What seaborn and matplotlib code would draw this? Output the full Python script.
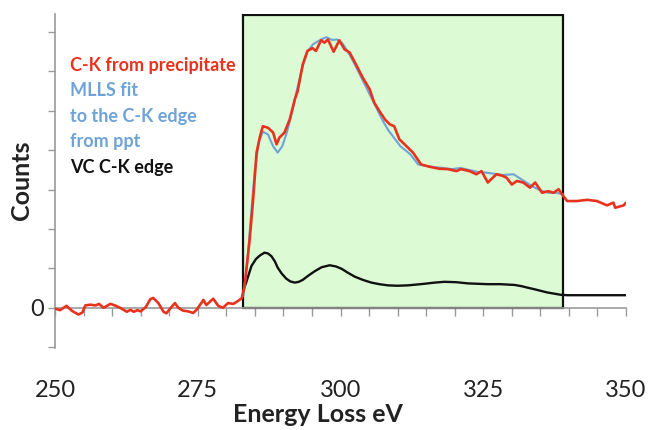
import matplotlib
matplotlib.use("Agg")
import matplotlib.pyplot as plt
from matplotlib.patches import Rectangle
from matplotlib.ticker import MultipleLocator
import seaborn as sns
import pandas as pd

# C-K edge measured from the precipitate (energy loss in eV, counts in arbitrary units)
ppt_energy = [250.0, 250.9, 252.0, 253.0, 254.1, 254.8, 255.3, 256.2, 257.1, 257.7,
              258.5, 259.7, 260.5, 261.4, 262.6, 263.2, 263.8, 264.4, 265.0, 265.9,
              266.7, 267.2, 268.1, 269.0, 269.5, 270.4, 271.0, 271.6, 272.4, 273.3,
              274.2, 274.8, 276.0, 276.5, 277.7, 278.6, 279.4, 280.3, 281.2, 281.8,
              282.7, 283.2, 284.1, 284.7, 285.3, 285.9, 286.4, 287.3, 288.2, 288.8,
              289.3, 290.2, 291.1, 292.0, 292.5, 293.4, 294.2, 295.1, 295.7, 296.6,
              297.2, 297.8, 298.8, 299.8, 300.7, 301.6, 302.7, 303.9, 305.1, 305.9,
              307.0, 307.8, 308.6, 309.4, 310.3, 311.5, 312.7, 313.5, 314.1, 315.6,
              317.3, 318.8, 320.3, 321.1, 322.6, 323.8, 324.7, 325.8, 327.3, 328.4,
              329.1, 330.0, 330.9, 332.0, 333.2, 334.1, 335.3, 336.4, 337.3, 338.2,
              338.8, 339.7, 341.4, 343.2, 344.9, 346.7, 347.8, 348.1, 349.6, 350.0]
ppt_counts = [-0.02, -0.06, 0.05, -0.08, -0.17, -0.12, 0.06, 0.08, 0.06, 0.10,
              0.00, 0.10, 0.06, 0.00, -0.10, -0.05, -0.10, -0.06, -0.09, 0.02,
              0.22, 0.25, 0.12, -0.10, -0.14, 0.02, 0.12, 0.00, -0.07, -0.09,
              -0.13, -0.05, 0.20, 0.07, 0.23, 0.05, 0.00, 0.12, 0.10, 0.15,
              0.24, 0.55, 1.74, 2.75, 3.94, 4.35, 4.61, 4.57, 4.45, 4.15,
              4.32, 4.45, 4.78, 5.29, 5.50, 6.18, 6.52, 6.59, 6.52, 6.79,
              6.73, 6.81, 6.50, 6.79, 6.56, 6.48, 6.18, 5.84, 5.55, 5.21,
              4.95, 4.78, 4.66, 4.61, 4.28, 4.11, 3.94, 3.77, 3.64, 3.58,
              3.53, 3.52, 3.47, 3.52, 3.47, 3.39, 3.47, 3.18, 3.39, 3.35,
              3.30, 3.13, 3.22, 3.18, 3.05, 3.18, 2.92, 2.96, 2.92, 3.01,
              2.88, 2.71, 2.71, 2.74, 2.71, 2.60, 2.67, 2.54, 2.60, 2.67]

# MLLS fit to the precipitate C-K edge
fit_energy = [283.0, 283.7, 284.3, 285.0, 285.7, 286.4, 287.3, 288.2, 289.0, 289.8,
              290.6, 291.5, 292.4, 293.3, 294.2, 295.2, 296.2, 297.5, 298.5, 299.4,
              300.4, 301.5, 302.6, 303.8, 305.0, 306.2, 307.4, 308.4, 309.3, 310.5,
              312.2, 313.6, 315.0, 316.5, 318.0, 319.5, 321.0, 322.5, 324.0, 325.5,
              327.0, 328.5, 330.3, 331.7, 333.4, 335.0, 336.4, 337.8, 339.0]
fit_counts = [0.30, 1.20, 2.30, 3.50, 4.20, 4.47, 4.40, 4.10, 3.94, 4.10,
              4.45, 4.95, 5.55, 6.10, 6.50, 6.69, 6.78, 6.87, 6.80, 6.81,
              6.70, 6.45, 6.15, 5.80, 5.45, 5.10, 4.75, 4.50, 4.33, 4.10,
              3.90, 3.64, 3.60, 3.57, 3.55, 3.52, 3.55, 3.50, 3.45, 3.43,
              3.40, 3.37, 3.39, 3.26, 3.10, 2.98, 2.92, 2.92, 2.88]

# Reference VC C-K edge
vc_energy = [283.0, 283.5, 284.4, 285.2, 285.9, 286.7, 287.3, 287.9, 288.5, 289.0,
             289.7, 290.5, 291.2, 292.0, 292.7, 293.4, 294.4, 295.5, 296.7, 298.1,
             299.2, 300.2, 301.3, 302.5, 303.9, 305.4, 306.8, 308.3, 310.0, 311.8,
             313.3, 314.7, 316.5, 318.2, 320.3, 322.3, 324.0, 325.8, 328.0, 330.5,
             331.7, 332.8, 334.0, 335.1, 336.2, 337.4, 338.6, 339.8, 345.0, 350.0]
vc_counts = [0.45, 0.65, 1.06, 1.24, 1.33, 1.40, 1.38, 1.31, 1.18, 1.02,
             0.87, 0.74, 0.67, 0.64, 0.66, 0.71, 0.82, 0.93, 1.03, 1.08,
             1.05, 0.99, 0.89, 0.79, 0.71, 0.64, 0.60, 0.57, 0.56, 0.57,
             0.59, 0.61, 0.64, 0.66, 0.65, 0.62, 0.61, 0.60, 0.60, 0.58,
             0.55, 0.51, 0.47, 0.43, 0.39, 0.36, 0.33, 0.32, 0.32, 0.32]

# Fitting window
fit_window = (283.0, 339.0)
x_tick_labels = [250, 275, 300, 325, 350]

legend_lines = [("C-K from precipitate", "#e8321e"),
                ("MLLS fit", "#6fa3d6"),
                ("to the C-K edge", "#6fa3d6"),
                ("from ppt", "#6fa3d6"),
                ("VC C-K edge", "#111111")]

RED = "#e8321e"
BLUE = "#6fa3d6"
GREY = "#9a9a9a"

sns.set_theme(style="white")
plt.rcParams["font.family"] = ["Lato", "DejaVu Sans"]

fig = plt.figure(figsize=(6.49, 4.30), dpi=100)
ax = fig.add_axes([55 / 649, 82 / 430, 571 / 649, 334.5 / 430])

ymin, ymax = -1.02, 7.47
ax.set_xlim(250, 350)
ax.set_ylim(ymin, ymax)

# shaded fitting window
ax.add_patch(Rectangle((fit_window[0], 0), fit_window[1] - fit_window[0], ymax - 0.03,
                       facecolor="#dcfad4", edgecolor="#111111", lw=1.6, zorder=1))

df_vc = pd.DataFrame({"E": vc_energy, "I": vc_counts})
df_fit = pd.DataFrame({"E": fit_energy, "I": fit_counts})
df_ppt = pd.DataFrame({"E": ppt_energy, "I": ppt_counts})

sns.lineplot(data=df_vc, x="E", y="I", ax=ax, color="#111111", lw=1.7,
             estimator=None, sort=False, zorder=3)
sns.lineplot(data=df_fit, x="E", y="I", ax=ax, color=BLUE, lw=1.5,
             estimator=None, sort=False, zorder=4)
sns.lineplot(data=df_ppt, x="E", y="I", ax=ax, color=RED, lw=1.9,
             estimator=None, sort=False, zorder=5)

# axes styling: left spine and a zero baseline carrying the energy ticks
for side in ("top", "right"):
    ax.spines[side].set_visible(False)
ax.spines["left"].set_color(GREY)
ax.spines["left"].set_linewidth(1.2)
ax.spines["bottom"].set_position(("data", 0))
ax.spines["bottom"].set_color(GREY)
ax.spines["bottom"].set_linewidth(1.2)
ax.spines["bottom"].set_zorder(2)

ax.xaxis.set_minor_locator(MultipleLocator(5))
ax.set_xticks(x_tick_labels)
ax.set_xticklabels([str(v) for v in x_tick_labels])
ax.tick_params(axis="x", which="both", direction="out", length=6, width=1.0,
               color=GREY, bottom=True)
ax.tick_params(axis="x", which="major", pad=46, labelsize=17, labelcolor="#222222")

yt = list(range(-1, 8))
ax.set_yticks(yt)
ax.set_yticklabels(["0" if v == 0 else "" for v in yt])
ax.tick_params(axis="y", direction="out", length=5, width=1.0, color=GREY,
               left=True, pad=3, labelsize=17, labelcolor="#222222")

ax.set_xlabel("Energy Loss eV", fontsize=18, fontweight="bold", color="#222222")
ax.xaxis.set_label_coords(0.46, -0.165)
ax.set_ylabel("Counts", fontsize=18, fontweight="bold", color="#222222")
ax.yaxis.set_label_coords(-0.038, 0.5)
ax.grid(False)

# series key written as coloured text
for i, (txt, col) in enumerate(legend_lines):
    fig.text(70 / 649, 1 - (65 + 25.5 * i) / 430, txt, color=col, fontsize=13,
             fontweight="bold", va="center", ha="left")

fig.savefig("out.png", dpi=100)
